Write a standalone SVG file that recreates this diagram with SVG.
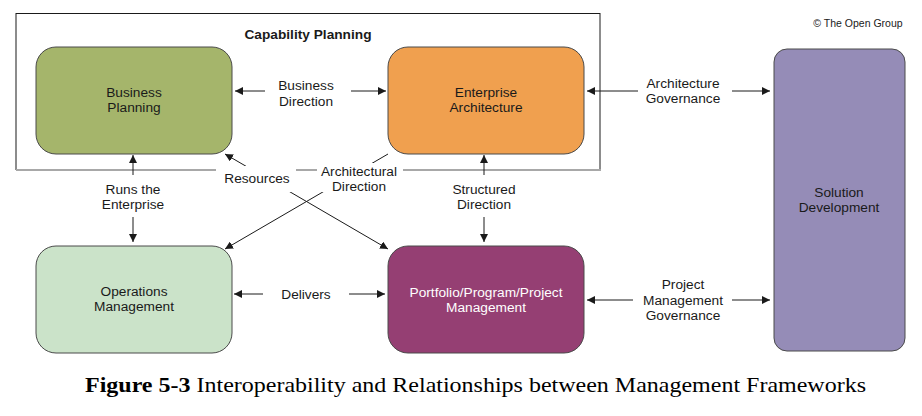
<svg xmlns="http://www.w3.org/2000/svg" width="922" height="416" viewBox="0 0 922 416">
<defs>
<marker id="ah" viewBox="0 0 10 10" refX="10" refY="5" markerWidth="8" markerHeight="8" markerUnits="userSpaceOnUse" orient="auto-start-reverse">
<path d="M0,0 L10,5 L0,10 z" fill="#1a1a1a"/>
</marker>
<style>
.box{stroke:#4a4a4a;stroke-width:1}
.t{font-family:"Liberation Sans",Arial,sans-serif;font-size:13.7px;fill:#1a1a1a;text-anchor:middle}
.w{fill:#ffffff}
.ln{stroke:#1a1a1a;stroke-width:1;fill:none}
.lbg{fill:#ffffff}
</style>
</defs>
<rect width="922" height="416" fill="#ffffff"/>
<g id="capability-planning">
<rect x="16" y="13.5" width="584" height="156" fill="none" stroke="#1a1a1a" stroke-width="1"/>
<line x1="16" y1="170" x2="601" y2="170" stroke="#a8a8a8" stroke-width="2"/>
<text class="t" x="308" y="39" font-weight="bold">Capability Planning</text>
</g>
<text class="t" x="858" y="27" style="font-size:10.5px">© The Open Group</text>
<g id="connectors">
<line class="ln" x1="265" y1="91" x2="235" y2="91" marker-end="url(#ah)"/>
<line class="ln" x1="351" y1="91" x2="386" y2="91" marker-end="url(#ah)"/>
<line class="ln" x1="638" y1="91" x2="587" y2="91" marker-end="url(#ah)"/>
<line class="ln" x1="732" y1="91" x2="770" y2="91" marker-end="url(#ah)"/>
<line class="ln" x1="263" y1="294" x2="234" y2="294" marker-end="url(#ah)"/>
<line class="ln" x1="349" y1="294" x2="385" y2="294" marker-end="url(#ah)"/>
<line class="ln" x1="633" y1="300" x2="587" y2="300" marker-end="url(#ah)"/>
<line class="ln" x1="732" y1="300" x2="770" y2="300" marker-end="url(#ah)"/>
<line class="ln" x1="133" y1="175" x2="133" y2="155" marker-end="url(#ah)"/>
<line class="ln" x1="133" y1="217" x2="133" y2="242" marker-end="url(#ah)"/>
<line class="ln" x1="484" y1="175" x2="484" y2="155" marker-end="url(#ah)"/>
<line class="ln" x1="484" y1="217" x2="484" y2="242" marker-end="url(#ah)"/>
<line class="ln" x1="225" y1="154" x2="388" y2="249" marker-start="url(#ah)" marker-end="url(#ah)"/>
<line class="ln" x1="388" y1="154" x2="225" y2="249" marker-end="url(#ah)"/>
<rect class="lbg" x="216" y="166" width="80" height="26"/>
<rect class="lbg" x="317" y="163" width="86" height="29"/>
<text class="t" x="257" y="183">Resources</text>
<text class="t" x="359" y="176">Architectural</text>
<text class="t" x="359" y="191">Direction</text>
<rect class="lbg" x="98" y="178" width="70" height="36"/>
<rect class="lbg" x="445" y="178" width="78" height="36"/>
<text class="t" x="133" y="194">Runs the</text>
<text class="t" x="133" y="209">Enterprise</text>
<text class="t" x="484" y="194">Structured</text>
<text class="t" x="484" y="209">Direction</text>
<text class="t" x="306" y="90">Business</text>
<text class="t" x="306" y="106">Direction</text>
<text class="t" x="683" y="88">Architecture</text>
<text class="t" x="683" y="103">Governance</text>
<text class="t" x="306" y="299">Delivers</text>
<text class="t" x="683" y="289">Project</text>
<text class="t" x="683" y="305">Management</text>
<text class="t" x="683" y="320">Governance</text>
</g>
<g id="business-planning">
<rect class="box" x="36" y="47" width="196" height="107" rx="20" fill="#a5b56b"/>
<text class="t" x="134" y="97">Business</text>
<text class="t" x="134" y="112">Planning</text>
</g>
<g id="enterprise-architecture">
<rect class="box" x="388" y="47" width="196" height="107" rx="20" fill="#f0a04f"/>
<text class="t" x="486" y="97">Enterprise</text>
<text class="t" x="486" y="112">Architecture</text>
</g>
<g id="solution-development">
<rect class="box" x="774" y="49" width="131" height="302" rx="13" fill="#958cb7"/>
<text class="t" x="839" y="197">Solution</text>
<text class="t" x="839" y="212">Development</text>
</g>
<g id="operations-management">
<rect class="box" x="36" y="246" width="196" height="107" rx="20" fill="#cbe3c9"/>
<text class="t" x="134" y="296">Operations</text>
<text class="t" x="134" y="311">Management</text>
</g>
<g id="portfolio-management">
<rect class="box" x="388" y="246" width="196" height="107" rx="20" fill="#953f73"/>
<text class="t w" x="486" y="297">Portfolio/Program/Project</text>
<text class="t w" x="486" y="312">Management</text>
</g>
<text x="475.5" y="392" text-anchor="middle" style="font-family:'Liberation Serif','Times New Roman',serif;font-size:21px;fill:#000" textLength="781" lengthAdjust="spacingAndGlyphs"><tspan font-weight="bold">Figure 5-3</tspan>  Interoperability and Relationships between Management Frameworks</text>
</svg>
